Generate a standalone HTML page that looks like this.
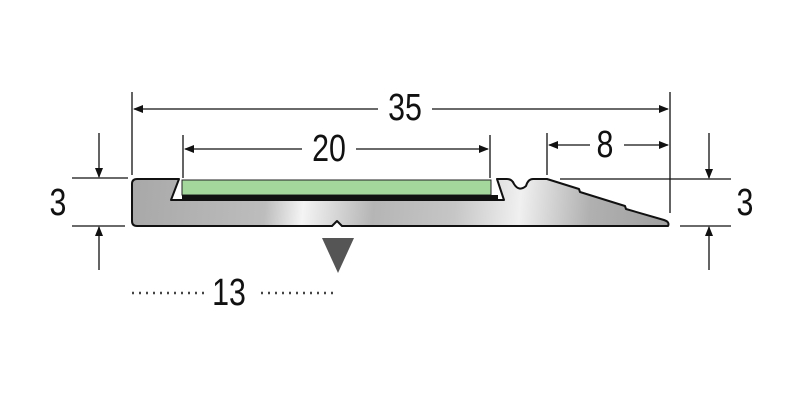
<!DOCTYPE html>
<html><head><style>html,body{margin:0;padding:0;background:#fff;}svg{display:block}</style></head>
<body>
<svg width="800" height="400" viewBox="0 0 800 400" xmlns="http://www.w3.org/2000/svg" font-family="'Liberation Sans', sans-serif">
<defs>
<linearGradient id="g" x1="132" y1="179" x2="670" y2="226" gradientUnits="userSpaceOnUse">
<stop offset="0" stop-color="#a8a8a8"/>
<stop offset="0.25" stop-color="#bdbdbd"/>
<stop offset="0.32" stop-color="#f4f4f4"/>
<stop offset="0.45" stop-color="#b5b5b5"/>
<stop offset="0.6" stop-color="#c6c6c6"/>
<stop offset="0.72" stop-color="#f0f0f0"/>
<stop offset="0.85" stop-color="#b0b0b0"/>
<stop offset="1" stop-color="#a0a0a0"/>
</linearGradient>
<marker id="a" markerWidth="10" markerHeight="8" refX="9" refY="4" orient="auto" markerUnits="userSpaceOnUse"><path d="M0,0 L10,4 L0,8 Z" fill="#111"/></marker>
</defs>
<path d="M137,179 L179,179 L171,200 L504,200 L497,179 L507,179 Q512,179 514,184 Q519,192 526,186 Q528,179 533,179 L547,179 L579,189 L580,192 L625,206 L626,209 L664,220 Q670,222 668,226 L342,226 L337,221 L332,226 L137,226 Q132,226 132,221 L132,184 Q132,179 137,179 Z" fill="url(#g)" stroke="#111" stroke-width="2" stroke-linejoin="round"/>
<rect x="182" y="180" width="309" height="15" fill="#a3d79c" stroke="#222" stroke-width="1"/>
<rect x="182" y="195" width="316" height="6" fill="#111"/>
<g stroke="#111" stroke-width="1.3" fill="none">
<line x1="132" y1="92" x2="132" y2="175"/>
<line x1="670" y1="92" x2="670" y2="213"/>
<line x1="183" y1="135" x2="183" y2="178"/>
<line x1="490" y1="135" x2="490" y2="178"/>
<line x1="547" y1="133" x2="547" y2="175"/>
<line x1="378" y1="109" x2="134" y2="109" marker-end="url(#a)"/>
<line x1="432" y1="109" x2="668" y2="109" marker-end="url(#a)"/>
<line x1="302" y1="149" x2="185" y2="149" marker-end="url(#a)"/>
<line x1="356" y1="149" x2="488" y2="149" marker-end="url(#a)"/>
<line x1="590" y1="145" x2="549" y2="145" marker-end="url(#a)"/>
<line x1="624" y1="145" x2="668" y2="145" marker-end="url(#a)"/>
<line x1="72" y1="178" x2="128" y2="178"/>
<line x1="72" y1="226" x2="125" y2="226"/>
<line x1="99" y1="133" x2="99" y2="177" marker-end="url(#a)"/>
<line x1="99" y1="270" x2="99" y2="227" marker-end="url(#a)"/>
<line x1="560" y1="179" x2="731" y2="179"/>
<line x1="680" y1="226" x2="731" y2="226"/>
<line x1="709" y1="133" x2="709" y2="178" marker-end="url(#a)"/>
<line x1="709" y1="270" x2="709" y2="227" marker-end="url(#a)"/>
<line x1="132" y1="293" x2="205" y2="293" stroke-dasharray="2 5" stroke="#444" stroke-width="2.5"/>
<line x1="261" y1="293" x2="338" y2="293" stroke-dasharray="2 5" stroke="#444" stroke-width="2.5"/>
</g>
<path d="M322,238 L354,238 L338,273 Z" fill="#555"/>
<g font-size="38" fill="#111" text-anchor="middle">
<text transform="translate(405,120) scale(0.8,1)">35</text>
<text transform="translate(329,161) scale(0.8,1)">20</text>
<text transform="translate(605,157) scale(0.8,1)">8</text>
<text transform="translate(58,215) scale(0.8,1)">3</text>
<text transform="translate(745,215) scale(0.8,1)">3</text>
<text transform="translate(229,305) scale(0.8,1)">13</text>
</g>
</svg>
</body></html>
